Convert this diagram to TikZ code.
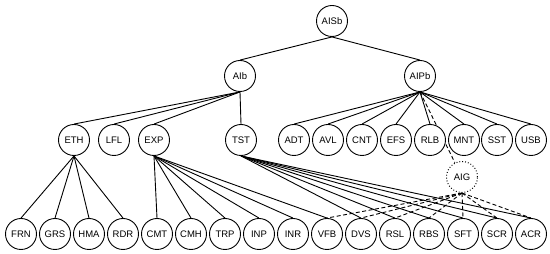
\documentclass[tikz,border=0pt]{standalone}
\usepackage{fontspec}
\setmainfont{Liberation Sans}
\usetikzlibrary{backgrounds}
\begin{document}
\begin{tikzpicture}[x=1pt,y=1pt,
  nd/.style={circle,draw,line width=0.9pt,fill=white,minimum size=31pt,inner sep=0pt,font=\fontsize{9.5}{10}\selectfont},
  dnd/.style={nd,dotted,line width=1pt},
  edge/.style={line width=0.9pt},
  dedge/.style={line width=0.9pt,dash pattern=on 4pt off 2.5pt}]
\useasboundingbox (0,0) rectangle (550,254);
% level 0-1
\node[nd] (AISb) at (332,233) {AISb};
\node[nd] (AIb) at (240,178) {AIb};
\node[nd] (AIPb) at (420,178) {AIPb};
% level 2
\node[nd] (ETH) at (74,114) {ETH};
\node[nd] (LFL) at (114,114) {LFL};
\node[nd] (EXP) at (154,114) {EXP};
\node[nd] (TST) at (241,114) {TST};
\node[nd] (ADT) at (294,114) {ADT};
\node[nd] (AVL) at (328,114) {AVL};
\node[nd] (CNT) at (362,114) {CNT};
\node[nd] (EFS) at (396,114) {EFS};
\node[nd] (RLB) at (430,114) {RLB};
\node[nd] (MNT) at (464,114) {MNT};
\node[nd] (SST) at (497,114) {SST};
\node[nd] (USB) at (531,114) {USB};
% AIG
\node[dnd] (AIG) at (462,77) {AIG};
% level 3
\node[nd] (FRN) at (21,20) {FRN};
\node[nd] (GRS) at (55,20) {GRS};
\node[nd] (HMA) at (89,20) {HMA};
\node[nd] (RDR) at (123,20) {RDR};
\node[nd] (CMT) at (157,20) {CMT};
\node[nd] (CMH) at (191,20) {CMH};
\node[nd] (TRP) at (225,20) {TRP};
\node[nd] (INP) at (259,20) {INP};
\node[nd] (INR) at (293,20) {INR};
\node[nd] (VFB) at (327,20) {VFB};
\node[nd] (DVS) at (361,20) {DVS};
\node[nd] (RSL) at (395,20) {RSL};
\node[nd] (RBS) at (429,20) {RBS};
\node[nd] (SFT) at (463,20) {SFT};
\node[nd] (SCR) at (497,20) {SCR};
\node[nd] (ACR) at (531,20) {ACR};
\begin{pgfonlayer}{background}
\foreach \c in {AIb,AIPb} \draw[edge] (AISb.south) -- (\c.north);
\foreach \c in {ETH,LFL,EXP,TST} \draw[edge] (AIb.south) -- (\c.north);
\foreach \c in {ADT,AVL,CNT,EFS,RLB,MNT,SST,USB} \draw[edge] (AIPb.south) -- (\c.north);
\draw[dedge] (AIPb.south) -- (AIG);
\foreach \c in {FRN,GRS,HMA,RDR} \draw[edge] (ETH.south) -- (\c.north);
\foreach \c in {CMT,CMH,TRP,INP,INR,VFB} \draw[edge] (EXP.south) -- (\c.north);
\foreach \c in {DVS,RSL,RBS,SFT,SCR,ACR} \draw[edge] (TST.south) -- (\c.north);
\foreach \c in {VFB,DVS,RSL,RBS,SFT,SCR,ACR} \draw[dedge] (AIG.south) -- (\c.north);
\end{pgfonlayer}
\end{tikzpicture}
\end{document}
